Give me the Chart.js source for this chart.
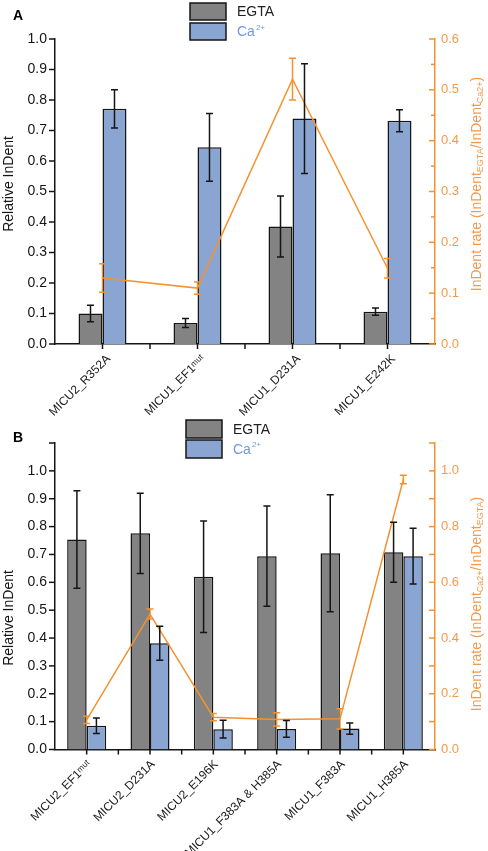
<!DOCTYPE html>
<html>
<head>
<meta charset="utf-8">
<script src="https://cdn.jsdelivr.net/npm/chart.js@4.4.1/dist/chart.umd.min.js"></script>
<style>
  body { margin: 0; background: #fff; width: 488px; height: 851px; overflow: hidden; position: relative; }
  canvas { position: absolute; left: 0; }
  #chartA { top: 0; }
  #chartB { top: 410px; }
</style>
</head>
<body>
<canvas id="chartA" width="488" height="425"></canvas>
<canvas id="chartB" width="488" height="441"></canvas>
<script>
// panel A
const labelsA = ["MICU2_R352A", "MICU1_EF1\u1D50\u1D58\u1D57", "MICU1_D231A", "MICU1_E242K"];
const egtaA = [0.100, 0.069, 0.385, 0.106];
const egtaErrA = [0.027, 0.015, 0.100, 0.012];
const caA = [0.771, 0.645, 0.739, 0.732];
const caErrA = [0.063, 0.111, 0.180, 0.036];
const rateA = [0.130, 0.110, 0.521, 0.149];
const rateErrA = [0.028, 0.012, 0.041, 0.019];

// panel B
const labelsB = ["MICU2_EF1\u1D50\u1D58\u1D57", "MICU2_D231A", "MICU2_E196K", "MICU1_F383A & H385A", "MICU1_F383A", "MICU1_H385A"];
const egtaB = [0.754, 0.776, 0.620, 0.694, 0.704, 0.708];
const egtaErrB = [0.175, 0.144, 0.200, 0.180, 0.210, 0.108];
const caB = [0.085, 0.381, 0.073, 0.074, 0.075, 0.694];
const caErrB = [0.028, 0.061, 0.032, 0.030, 0.020, 0.100];
const rateB = [0.106, 0.486, 0.116, 0.108, 0.110, 0.969];
const rateErrB = [0.013, 0.018, 0.013, 0.024, 0.036, 0.015];

const FONT = "'Liberation Sans', Arial, sans-serif";
const GRAY = "#838383";
const BLUE = "#8ba5d2";
const ORANGE = "#f5922f";
const ORANGE_TXT = "#f39a4c";
const CA_TXT = "#6f98de";
const INK = "#151515";

// error bars for every dataset that carries an errors array
const errorBars = {
  id: "errorBars",
  afterDatasetsDraw(chart) {
    const ctx = chart.ctx;
    ctx.save();
    chart.data.datasets.forEach((ds, di) => {
      if (!ds.errors) return;
      const meta = chart.getDatasetMeta(di);
      const scale = chart.scales[meta.yAxisID];
      ctx.strokeStyle = ds.errorColor;
      ctx.lineWidth = 1.5;
      meta.data.forEach((el, i) => {
        const v = ds.data[i], e = ds.errors[i];
        const top = scale.getPixelForValue(v + e);
        const bot = scale.getPixelForValue(v - e);
        const x = el.x;
        ctx.beginPath();
        ctx.moveTo(x, top); ctx.lineTo(x, bot);
        ctx.moveTo(x - 3.5, top); ctx.lineTo(x + 3.5, top);
        ctx.moveTo(x - 3.5, bot); ctx.lineTo(x + 3.5, bot);
        ctx.stroke();
      });
    });
    ctx.restore();
  }
};

// tick marks: left outward, right inward, x at centres and boundaries
const axisMarks = {
  id: "axisMarks",
  afterDraw(chart, args, opts) {
    const { ctx, chartArea, scales } = chart;
    const line = (x1, y1, x2, y2) => { ctx.beginPath(); ctx.moveTo(x1, y1); ctx.lineTo(x2, y2); ctx.stroke(); };
    ctx.save();
    ctx.lineWidth = 1.5;
    ctx.strokeStyle = INK;
    scales.y.ticks.forEach(t => {
      const y = scales.y.getPixelForValue(t.value);
      line(chartArea.left - 6, y, chartArea.left, y);
    });
    const n = chart.data.labels.length;
    for (let i = 0; i < n; i++) {
      const xc = scales.x.getPixelForValue(i);
      line(xc, chartArea.bottom, xc, chartArea.bottom + 5);
      if (i < n - 1) {
        const xb = scales.x.getPixelForValue(i + 0.5);
        line(xb, chartArea.bottom, xb, chartArea.bottom + 5);
      }
    }
    ctx.strokeStyle = ORANGE;
    scales.y1.ticks.forEach(t => {
      const y = scales.y1.getPixelForValue(t.value);
      const len = t.label === "" ? opts.minorLen : 6;
      line(chartArea.right - len, y, chartArea.right, y);
    });
    ctx.restore();
  }
};

// panel letter, axis titles and legend
const decor = {
  id: "decor",
  afterDraw(chart, args, opts) {
    const { ctx } = chart;
    ctx.save();
    ctx.textBaseline = "middle";
    ctx.fillStyle = "#000";
    ctx.font = "bold 14px " + FONT;
    ctx.textAlign = "left";
    ctx.fillText(opts.letter, 13, opts.letterY);

    // left title
    ctx.save();
    ctx.translate(9, opts.leftTitleY);
    ctx.rotate(-Math.PI / 2);
    ctx.textAlign = "center";
    ctx.font = "14px " + FONT;
    ctx.fillStyle = INK;
    ctx.fillText("Relative InDent", 0, 0);
    ctx.restore();

    // right title with subscripts
    ctx.save();
    ctx.translate(477, opts.rightTitleY);
    ctx.rotate(-Math.PI / 2);
    ctx.fillStyle = ORANGE_TXT;
    ctx.textAlign = "left";
    const big = "14px " + FONT, small = "9px " + FONT;
    let total = 0;
    opts.rightTitle.forEach(p => { ctx.font = p[1] ? small : big; total += ctx.measureText(p[0]).width; });
    let x = -total / 2;
    opts.rightTitle.forEach(p => {
      ctx.font = p[1] ? small : big;
      ctx.fillText(p[0], x, p[1] ? 4 : 0);
      x += ctx.measureText(p[0]).width;
    });
    ctx.restore();

    // legend
    const lg = opts.legend;
    ctx.lineWidth = 1.5;
    ctx.strokeStyle = INK;
    ctx.fillStyle = GRAY;
    ctx.fillRect(lg.x, lg.y1, 36, lg.h);
    ctx.strokeRect(lg.x, lg.y1, 36, lg.h);
    ctx.fillStyle = BLUE;
    ctx.fillRect(lg.x, lg.y2, 36, lg.h);
    ctx.strokeRect(lg.x, lg.y2, 36, lg.h);
    ctx.font = "14px " + FONT;
    ctx.fillStyle = "#222";
    ctx.fillText("EGTA", lg.x + 47, lg.y1 + lg.h / 2 + 1);
    ctx.fillStyle = CA_TXT;
    ctx.fillText("Ca", lg.x + 47, lg.y2 + lg.h / 2 + 1);
    const w = ctx.measureText("Ca").width;
    ctx.font = "8px " + FONT;
    ctx.fillText("2+", lg.x + 48 + w, lg.y2 + lg.h / 2 - 4);
    ctx.restore();
  }
};

function makeChart(id, cfg) {
  return new Chart(document.getElementById(id), {
    type: "bar",
    data: {
      labels: cfg.labels,
      datasets: [
        {
          type: "line", label: "rate", data: cfg.rate, errors: cfg.rateErr, errorColor: ORANGE,
          yAxisID: "y1", borderColor: ORANGE, borderWidth: 1.5, pointRadius: 0, fill: false, tension: 0, order: 0
        },
        {
          label: "EGTA", data: cfg.egta, errors: cfg.egtaErr, errorColor: INK, yAxisID: "y",
          backgroundColor: GRAY, borderColor: INK, borderWidth: 1.5, order: 1
        },
        {
          label: "Ca2+", data: cfg.ca, errors: cfg.caErr, errorColor: INK, yAxisID: "y",
          backgroundColor: BLUE, borderColor: INK, borderWidth: 1.5, order: 1
        }
      ]
    },
    options: {
      responsive: false,
      animation: false,
      devicePixelRatio: 1,
      layout: { padding: { top: cfg.top, left: 0, right: 0, bottom: 0 } },
      datasets: { bar: { categoryPercentage: cfg.catPct, barPercentage: 1 } },
      plugins: {
        legend: { display: false },
        tooltip: { enabled: false },
        axisMarks: { minorLen: cfg.minorLen },
        decor: cfg.decor
      },
      scales: {
        x: {
          offset: true,
          grid: { display: false, drawTicks: false },
          border: { color: INK, width: 1.5 },
          ticks: {
            minRotation: 45, maxRotation: 45, autoSkip: false, padding: 8, labelOffset: cfg.labelShift,
            color: "#1a1a1a", font: { family: FONT, size: 12 }
          },
          afterFit: s => { s.height = cfg.xHeight; }
        },
        y: {
          position: "left", min: 0, max: cfg.yMax,
          grid: { display: false, drawTicks: false },
          border: { color: INK, width: 1.5 },
          ticks: {
            stepSize: 0.1, padding: 8, color: INK, font: { family: FONT, size: 14 },
            callback: v => (v > 1.05 ? "" : v.toFixed(1))
          },
          afterFit: s => { s.width = 55; }
        },
        y1: {
          position: "right", min: 0, max: cfg.y1Max,
          grid: { display: false, drawTicks: false },
          border: { color: ORANGE, width: 1.5 },
          ticks: {
            stepSize: cfg.y1Step, padding: 6, color: ORANGE_TXT, font: { family: FONT, size: 13 },
            callback: v => {
              const k = Math.round(v * 100);
              return (k % cfg.y1Label === 0 && v < 1.05) ? v.toFixed(1) : "";
            }
          },
          afterFit: s => { s.width = 53; }
        }
      }
    },
    plugins: [errorBars, axisMarks, decor]
  });
}

makeChart("chartA", {
  labels: labelsA, egta: egtaA, egtaErr: egtaErrA, ca: caA, caErr: caErrA, rate: rateA, rateErr: rateErrA,
  top: 39, xHeight: 81, catPct: 0.505, yMax: 1.0, y1Max: 0.6, y1Step: 0.05, y1Label: 10, minorLen: 4, labelShift: 6,
  decor: {
    letter: "A", letterY: 16, leftTitleY: 184, rightTitleY: 184,
    rightTitle: [["InDent rate (InDent", 0], ["EGTA", 1], ["/InDent", 0], ["Ca2+", 1], [")", 0]],
    legend: { x: 190, y1: 3, y2: 23, h: 17 }
  }
});

makeChart("chartB", {
  labels: labelsB, egta: egtaB, egtaErr: egtaErrB, ca: caB, caErr: caErrB, rate: rateB, rateErr: rateErrB,
  top: 33, xHeight: 101.5, catPct: 0.616, yMax: 1.1, y1Max: 1.1, y1Step: 0.1, y1Label: 20, minorLen: 6, labelShift: 3,
  decor: {
    letter: "B", letterY: 28, leftTitleY: 208, rightTitleY: 194,
    rightTitle: [["InDent rate (InDent", 0], ["Ca2+", 1], ["/InDent", 0], ["EGTA", 1], [")", 0]],
    legend: { x: 186, y1: 10, y2: 30, h: 18 }
  }
});
</script>
</body>
</html>
